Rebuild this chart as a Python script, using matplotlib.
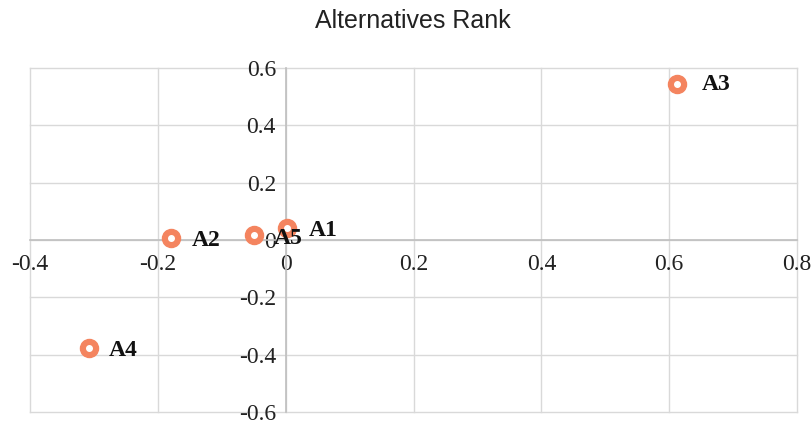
import numpy as np
import matplotlib.pyplot as plt

names = ["A1", "A2", "A3", "A4", "A5"]
x_vals = [0.002, -0.180, 0.613, -0.308, -0.050]
y_vals = [0.042, 0.007, 0.544, -0.377, 0.017]
# label nudge in pixels (dx, dy)
label_offsets = [(22, -3), (21, -3), (24, 0), (20, -2), (20, -3)]

x_ticks = [-0.4, -0.2, 0, 0.2, 0.4, 0.6, 0.8]
y_ticks = [-0.6, -0.4, -0.2, 0, 0.2, 0.4, 0.6]
x_tick_labels = ["-0.4", "-0.2", "0", "0.2", "0.4", "0.6", "0.8"]
y_tick_labels = ["-0.6", "-0.4", "-0.2", "0", "0.2", "0.4", "0.6"]

orange = "#f4845f"
serif = "Liberation Serif"

fig = plt.figure(figsize=(8.12, 4.21), dpi=100)
ax = fig.add_axes([0.037, 0.0214, 0.9445, 0.8171])

for s in ["top", "right"]:
    ax.spines[s].set_visible(False)
ax.spines["left"].set_position(("data", 0))
ax.spines["bottom"].set_position(("data", 0))
ax.spines["left"].set_color("#bfbfbf")
ax.spines["bottom"].set_color("#bfbfbf")
ax.spines["left"].set_linewidth(1.2)
ax.spines["bottom"].set_linewidth(1.2)

ax.set_xlim(-0.4, 0.8)
ax.set_ylim(-0.6, 0.6)
ax.set_xticks(x_ticks)
ax.set_yticks(y_ticks)
ax.set_xticklabels(x_tick_labels)
ax.set_yticklabels(y_tick_labels)
ax.tick_params(length=0, labelsize=17, labelcolor="#222222", labelfontfamily=serif)
ax.tick_params(axis="y", pad=7)
ax.tick_params(axis="x", pad=10)
for lbl in ax.get_xticklabels() + ax.get_yticklabels():
    lbl.set_clip_on(False)

ax.grid(True, color="#d9d9d9", linewidth=1)
for gl in ax.get_xgridlines() + ax.get_ygridlines():
    gl.set_clip_on(False)
ax.set_axisbelow(True)

ax.scatter(x_vals, y_vals, s=13**2, color=orange, zorder=3, clip_on=False)
ax.scatter(x_vals, y_vals, s=4**2, color="white", zorder=4, clip_on=False)

for n, xv, yv, (dx, dy) in zip(names, x_vals, y_vals, label_offsets):
    ax.annotate(n, (xv, yv), xytext=(dx * 0.72, dy * 0.72), textcoords="offset points",
                family=serif, fontweight="bold", fontsize=17, color="#111111",
                va="center", ha="left", zorder=5)

fig.text(0.509, 0.95, "Alternatives Rank", family="Liberation Sans", fontsize=18,
         ha="center", va="center", color="#222222")

fig.savefig("out.png", dpi=100)
